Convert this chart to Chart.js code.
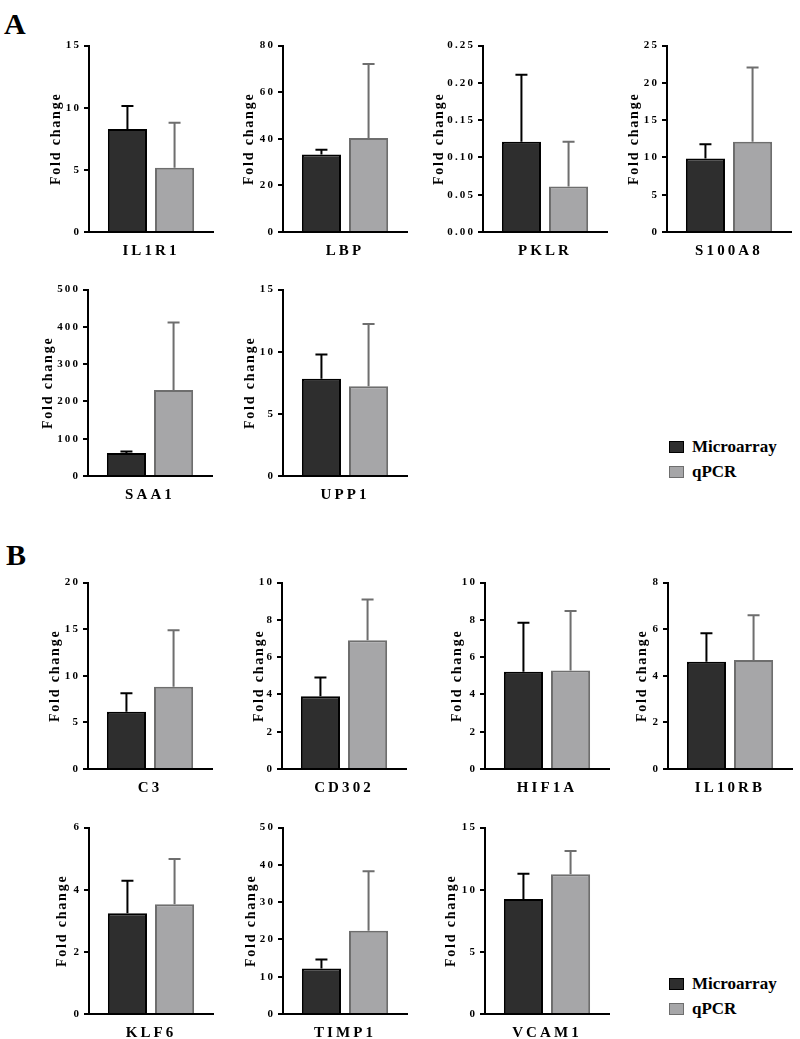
<!DOCTYPE html>
<html>
<head>
<meta charset="utf-8">
<script src="https://cdn.jsdelivr.net/npm/chart.js@4.4.0/dist/chart.umd.min.js"></script>
<style>
  body { margin: 0; background: #fff; width: 800px; height: 1039px; position: relative; overflow: hidden;
         font-family: 'Liberation Serif', 'Times New Roman', serif; }
  canvas { position: absolute; }
  .panel { position: absolute; font-weight: bold; font-size: 30px; line-height: 30px; }
  .legend { position: absolute; font-weight: bold; font-size: 17px; }
  .legend div { height: 25px; display: flex; align-items: center; }
  .sw { width: 13px; height: 10px; margin-right: 8px; border: 1px solid; }
</style>
</head>
<body>
<div class="panel" style="left:4px;top:9px">A</div>
<div class="panel" style="left:6px;top:540px">B</div>

<div class="legend" style="left:669px;top:434px">
  <div><span class="sw" style="background:#2e2e2e;border-color:#000"></span>Microarray</div>
  <div><span class="sw" style="background:#a6a6a8;border-color:#6e6e6e"></span>qPCR</div>
</div>
<div class="legend" style="left:669px;top:971px">
  <div><span class="sw" style="background:#2e2e2e;border-color:#000"></span>Microarray</div>
  <div><span class="sw" style="background:#a6a6a8;border-color:#6e6e6e"></span>qPCR</div>
</div>

<script>
// data
const genes = ['IL1R1', 'LBP', 'PKLR', 'S100A8', 'SAA1', 'UPP1',
               'C3', 'CD302', 'HIF1A', 'IL10RB', 'KLF6', 'TIMP1', 'VCAM1'];
const microarray    = [8.28, 33.3, 0.121, 9.86, 62, 7.83, 6.13, 3.9, 5.22, 4.6, 3.24, 12.2, 9.26];
const microarrayErr = [1.85, 2.0, 0.09, 1.91, 3.6, 1.94, 1.99, 1.01, 2.63, 1.23, 1.05, 2.4, 2.02];
const qpcr          = [5.18, 40.3, 0.061, 12.12, 231, 7.22, 8.83, 6.91, 5.28, 4.68, 3.53, 22.3, 11.25];
const qpcrErr       = [3.62, 31.8, 0.06, 9.95, 181, 5.02, 6.06, 2.19, 3.19, 1.92, 1.46, 16.0, 1.86];
const yMax      = [15, 80, 0.25, 25, 500, 15, 20, 10, 10, 8, 6, 50, 15];
const yStep     = [5, 20, 0.05, 5, 100, 5, 5, 2, 2, 2, 2, 10, 5];
const yDecimals = [0, 0, 2, 0, 0, 0, 0, 0, 0, 0, 0, 0, 0];

// where each small chart sits: y-axis x, top of the axis, title distance from axis
const layout = [
  { x: 89, top: 44, gap: 33 }, { x: 283, top: 44, gap: 34 }, { x: 483, top: 44, gap: 44 }, { x: 667, top: 44, gap: 33 },
  { x: 88, top: 288, gap: 40 }, { x: 283, top: 288, gap: 33 },
  { x: 88, top: 581, gap: 33 }, { x: 282, top: 581, gap: 23 }, { x: 485, top: 581, gap: 28 }, { x: 668, top: 581, gap: 26 },
  { x: 89, top: 826, gap: 27 }, { x: 283, top: 826, gap: 32 }, { x: 485, top: 826, gap: 34 }
];
const plotH = 188, plotW = 124, padTop = 8, xAxisH = 30;

const FONT = "'Liberation Serif', 'Times New Roman', serif";
// spaced-out lettering like the original, keyed by font size
const spacing = { '11': 2.1, '14': 1.8, '15': 3.1 };

const letterSpacingPlugin = {
  id: 'letterSpacing',
  beforeInit(chart) {
    const ctx = chart.ctx;
    const fill = ctx.fillText;
    ctx.fillText = function (text, x, y, maxWidth) {
      const m = /(\d+(?:\.\d+)?)px/.exec(this.font);
      this.letterSpacing = ((m && spacing[m[1]]) || 0) + 'px';
      if (maxWidth === undefined) fill.call(this, text, x, y);
      else fill.call(this, text, x, y, maxWidth);
      this.letterSpacing = '0px';
    };
  }
};

// upper error bars (mean + SD)
const errorBarPlugin = {
  id: 'errorBars',
  afterDatasetsDraw(chart) {
    const ctx = chart.ctx;
    const y = chart.scales.y;
    chart.data.datasets.forEach((ds, i) => {
      chart.getDatasetMeta(i).data.forEach((bar, j) => {
        const top = y.getPixelForValue(ds.data[j] + ds.errors[j]);
        ctx.save();
        ctx.strokeStyle = ds.errorColor;
        ctx.lineWidth = 2;
        ctx.beginPath();
        ctx.moveTo(bar.x, bar.y);
        ctx.lineTo(bar.x, top);
        ctx.moveTo(bar.x - 6, top);
        ctx.lineTo(bar.x + 6, top);
        ctx.stroke();
        ctx.restore();
      });
    });
  }
};

genes.forEach((gene, i) => {
  const L = layout[i];
  const yw = Math.round(L.gap + 8.4);
  const canvas = document.createElement('canvas');
  canvas.width = yw + plotW + 4;
  canvas.height = padTop + plotH + xAxisH;
  canvas.style.left = (L.x - yw) + 'px';
  canvas.style.top = (L.top - padTop) + 'px';
  document.body.appendChild(canvas);

  new Chart(canvas.getContext('2d'), {
    type: 'bar',
    data: {
      labels: [gene],
      datasets: [
        {
          label: 'Microarray',
          data: [microarray[i]],
          errors: [microarrayErr[i]],
          backgroundColor: '#2e2e2e',
          borderColor: '#000',
          borderWidth: 2,
          errorColor: '#000'
        },
        {
          label: 'qPCR',
          data: [qpcr[i]],
          errors: [qpcrErr[i]],
          backgroundColor: '#a6a6a8',
          borderColor: '#6e6e6e',
          borderWidth: 2,
          errorColor: '#6e6e6e'
        }
      ]
    },
    options: {
      responsive: false,
      animation: false,
      layout: { padding: { top: padTop, right: 4, left: 0, bottom: 0 } },
      plugins: { legend: { display: false }, tooltip: { enabled: false } },
      datasets: { bar: { categoryPercentage: 0.76, barPercentage: 0.83 } },
      scales: {
        x: {
          grid: { display: false, drawTicks: false },
          border: { display: true, color: '#000', width: 2 },
          ticks: { color: '#000', padding: 10, font: { family: FONT, size: 15, weight: 'bold' } },
          afterFit(s) { s.height = xAxisH; }
        },
        y: {
          min: 0,
          max: yMax[i],
          ticks: {
            stepSize: yStep[i],
            color: '#000',
            padding: 3,
            font: { family: FONT, size: 11, weight: 'bold' },
            callback: v => Number(v).toFixed(yDecimals[i])
          },
          grid: { drawOnChartArea: false, drawTicks: true, tickLength: 5, color: '#000', lineWidth: 2 },
          border: { display: true, color: '#000', width: 2 },
          title: {
            display: true,
            text: 'Fold change',
            color: '#000',
            padding: 0,
            font: { family: FONT, size: 14, weight: 'bold' }
          },
          afterFit(s) { s.width = yw; }
        }
      }
    },
    plugins: [letterSpacingPlugin, errorBarPlugin]
  });
});
</script>
</body>
</html>
